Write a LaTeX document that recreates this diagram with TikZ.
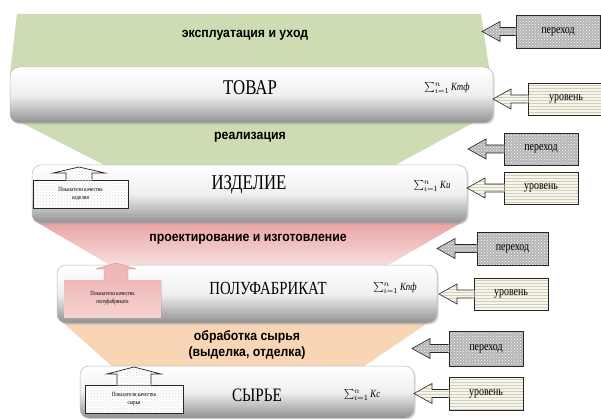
\documentclass[tikz,border=0pt]{standalone}
\usepackage{fontspec}
\setmainfont{Liberation Serif}
\newfontfamily\cserif[FakeStretch=0.8]{Liberation Serif}
\newfontfamily\csans[FakeStretch=0.91]{Liberation Sans}
\usetikzlibrary{patterns,shadows,calc}
\definecolor{grn}{RGB}{205,220,178}
\definecolor{pinkt}{RGB}{233,160,160}
\definecolor{pinkb}{RGB}{249,226,226}
\definecolor{orng}{RGB}{248,213,180}
\definecolor{barg}{RGB}{145,145,145}
\definecolor{cream}{RGB}{250,246,228}
\definecolor{pbg}{RGB}{180,180,180}
\definecolor{qpink}{RGB}{240,185,185}

% up arrow on top of a small box: #1 fill style, #2 line style, #3 box node, #4 tip, #5 shaft half, #6 head half, #7 head length
\newcommand\uparw[7]{%
 \fill[#1] let \p1=(#3.north), \p2=(#4) in (\x2-#5,\y1-0.7pt) -- (\x2-#5,\y2-#7) -- (\x2-#6,\y2-#7) -- (\x2,\y2) -- (\x2+#6,\y2-#7) -- (\x2+#5,\y2-#7) -- (\x2+#5,\y1-0.7pt) -- cycle;
 \draw[#2] let \p1=(#3.north), \p2=(#4) in (\x2-#5,\y1) -- (\x2-#5,\y2-#7) -- (\x2-#6,\y2-#7) -- (\x2,\y2) -- (\x2+#6,\y2-#7) -- (\x2+#5,\y2-#7) -- (\x2+#5,\y1);}
% left arrow from a box: #1 fill style, #2 line style, #3 box node, #4 tip
\newcommand\leftarw[4]{%
 \fill[#1] let \p1=(#3.west), \p2=(#4) in (\x1+0.7pt,\y1+4pt) -- (\x2+18pt,\y1+4pt) -- (\x2+18pt,\y1+10pt) -- (\x2,\y1) -- (\x2+18pt,\y1-10pt) -- (\x2+18pt,\y1-4pt) -- (\x1+0.7pt,\y1-4pt) -- cycle;
 \draw[#2] let \p1=(#3.west), \p2=(#4) in (\x1,\y1+4pt) -- (\x2+18pt,\y1+4pt) -- (\x2+18pt,\y1+10pt) -- (\x2,\y1) -- (\x2+18pt,\y1-10pt) -- (\x2+18pt,\y1-4pt) -- (\x1,\y1-4pt);}

\tikzset{
  bar/.style={draw=gray!55, line width=0.5pt, rounded corners=9pt,
    top color=white, bottom color=barg, middle color=white!94!black,
    drop shadow={shadow xshift=1.5pt, shadow yshift=-1.5pt, opacity=0.3}},
  proc/.style={font=\csans\bfseries\fontsize{13.5}{16}\selectfont, align=center, inner sep=0pt},
  lvlname/.style={font=\cserif\fontsize{21}{22}\selectfont, inner sep=0pt},
  frm/.style={font=\cserif\fontsize{11}{12}\selectfont, inner sep=0pt},
  pfill/.style={preaction={fill=pbg}, pattern=crosshatch dots, pattern color=white},
  ufill/.style={preaction={fill=cream}, pattern=horizontal lines, pattern color=gray!40},
  qfill/.style={preaction={fill=white}, pattern=crosshatch dots, pattern color=gray!30},
  boxline/.style={draw=black!85, line width=0.8pt},
  pbox/.style={boxline, pfill, font=\cserif\fontsize{12.5}{14}\selectfont, inner sep=0pt},
  ubox/.style={boxline, ufill, font=\cserif\fontsize{12.5}{14}\selectfont, inner sep=0pt},
  qbox/.style={draw=black!85, line width=0.7pt, qfill, align=center,
    font=\cserif\fontsize{6.3}{8}\selectfont, inner sep=0pt},
  qpbox/.style={draw=none, top color=qpink, bottom color=pinkb!60!qpink, align=center,
    font=\cserif\fontsize{6.3}{8}\selectfont, inner sep=0pt,
    drop shadow={shadow xshift=1pt, shadow yshift=-1pt, opacity=0.25}},
}

\begin{document}
\begin{tikzpicture}[x=1pt,y=-1pt]
\useasboundingbox (0,0) rectangle (601,419);
\fill[white] (0,0) rectangle (601,419);

% funnels
\fill[grn] (17,14) -- (481,14) -- (490,74) -- (10,74) -- cycle;
\fill[grn] (12,118) -- (482,118) -- (390,168) -- (110,168) -- cycle;
\shade[top color=pinkt, bottom color=pinkb] (33,220) -- (466,220) -- (383,268) -- (115,268) -- cycle;
\fill[orng] (60,320) -- (432,320) -- (360,369) -- (115,369) -- cycle;

\node[proc] (lexp) at (245,35) {эксплуатация и уход};
\node[proc] (lreal) at (250,137) {реализация};
\node[proc] (lproj) at (248,239) {проектирование и изготовление};
\node[proc] (lobr) at (247,345) {обработка сырья\\(выделка, отделка)};

% bars
\node[bar, minimum width=483pt, minimum height=56pt] (tovar) at (251.5,95) {};
\node[bar, minimum width=435pt, minimum height=58pt] (izd) at (249.5,194) {};
\node[bar, minimum width=380pt, minimum height=58pt] (polu) at (247,294) {};
\node[bar, minimum width=334pt, minimum height=52pt] (syr) at (247,392) {};

\node[lvlname] (ntov) at (250,88) {ТОВАР};
\node[frm] (ftov) at (447,88) {$\sum_{i=1}^{n}$\,\textit{Kтф}};
\node[lvlname] (nizd) at (249,185) {ИЗДЕЛИЕ};
\node[frm] (fizd) at (432,186) {$\sum_{i=1}^{n}$\,\textit{Kи}};
\node[lvlname, font=\cserif\fontsize{18.5}{19}\selectfont] (npol) at (268,288) {ПОЛУФАБРИКАТ};
\node[frm] (fpol) at (395,288) {$\sum_{i=1}^{n}$\,\textit{Kпф}};
\node[lvlname, font=\cserif\fontsize{19}{20}\selectfont] (nsyr) at (257,395) {СЫРЬЕ};
\node[frm] (fsyr) at (362,395) {$\sum_{i=1}^{n}$\,\textit{Kс}};

% quality boxes
\node[qbox, minimum width=95pt, minimum height=28pt] (q1) at (80.5,194) {Показатели качества\\изделия};
\coordinate (a1) at (79,167);
\uparw{qfill}{draw=black!85, line width=0.7pt}{q1}{a1}{13pt}{26pt}{6pt}

\node[qpbox, minimum width=97pt, minimum height=37pt] (q2) at (112.5,298.5) {Показатели качества\\полуфабриката};
\coordinate (a2) at (116,263);
\uparw{qpink}{draw=qpink!80!black, line width=0.4pt}{q2}{a2}{12pt}{20pt}{6pt}

\node[qbox, minimum width=98pt, minimum height=28pt] (q3) at (134,399) {Показатели качества\\сырья};
\coordinate (a3) at (134,367);
\uparw{qfill}{draw=black!85, line width=0.7pt}{q3}{a3}{17pt}{27pt}{7pt}

% right boxes
\node[pbox, minimum width=84pt, minimum height=33pt] (p1) at (558,31.5) {переход};
\node[ubox, minimum width=76pt, minimum height=32pt] (u1) at (566,99) {уровень\hspace{22pt}};
\node[pbox, minimum width=74pt, minimum height=32pt] (p2) at (541,149) {переход};
\node[ubox, minimum width=74pt, minimum height=32pt] (u2) at (541,188) {уровень};
\node[pbox, minimum width=71pt, minimum height=33pt] (p3) at (512.5,248.5) {переход};
\node[ubox, minimum width=74pt, minimum height=32pt] (u3) at (511,294) {уровень};
\node[pbox, minimum width=74pt, minimum height=35pt] (p4) at (486,348.5) {переход};
\node[ubox, minimum width=74pt, minimum height=33pt] (u4) at (486,393.5) {уровень};

\coordinate (tp1) at (482,31.5);
\coordinate (tu1) at (493,99);
\coordinate (tp2) at (468,149);
\coordinate (tu2) at (467,188);
\coordinate (tp3) at (437,248.5);
\coordinate (tu3) at (439,294);
\coordinate (tp4) at (412,348.5);
\coordinate (tu4) at (414,393.5);

\leftarw{pfill}{boxline, line width=0.6pt}{p1}{tp1}
\leftarw{ufill}{boxline, line width=0.6pt}{u1}{tu1}
\leftarw{pfill}{boxline, line width=0.6pt}{p2}{tp2}
\leftarw{ufill}{boxline, line width=0.6pt}{u2}{tu2}
\leftarw{pfill}{boxline, line width=0.6pt}{p3}{tp3}
\leftarw{ufill}{boxline, line width=0.6pt}{u3}{tu3}
\leftarw{pfill}{boxline, line width=0.6pt}{p4}{tp4}
\leftarw{ufill}{boxline, line width=0.6pt}{u4}{tu4}
\end{tikzpicture}
\end{document}
